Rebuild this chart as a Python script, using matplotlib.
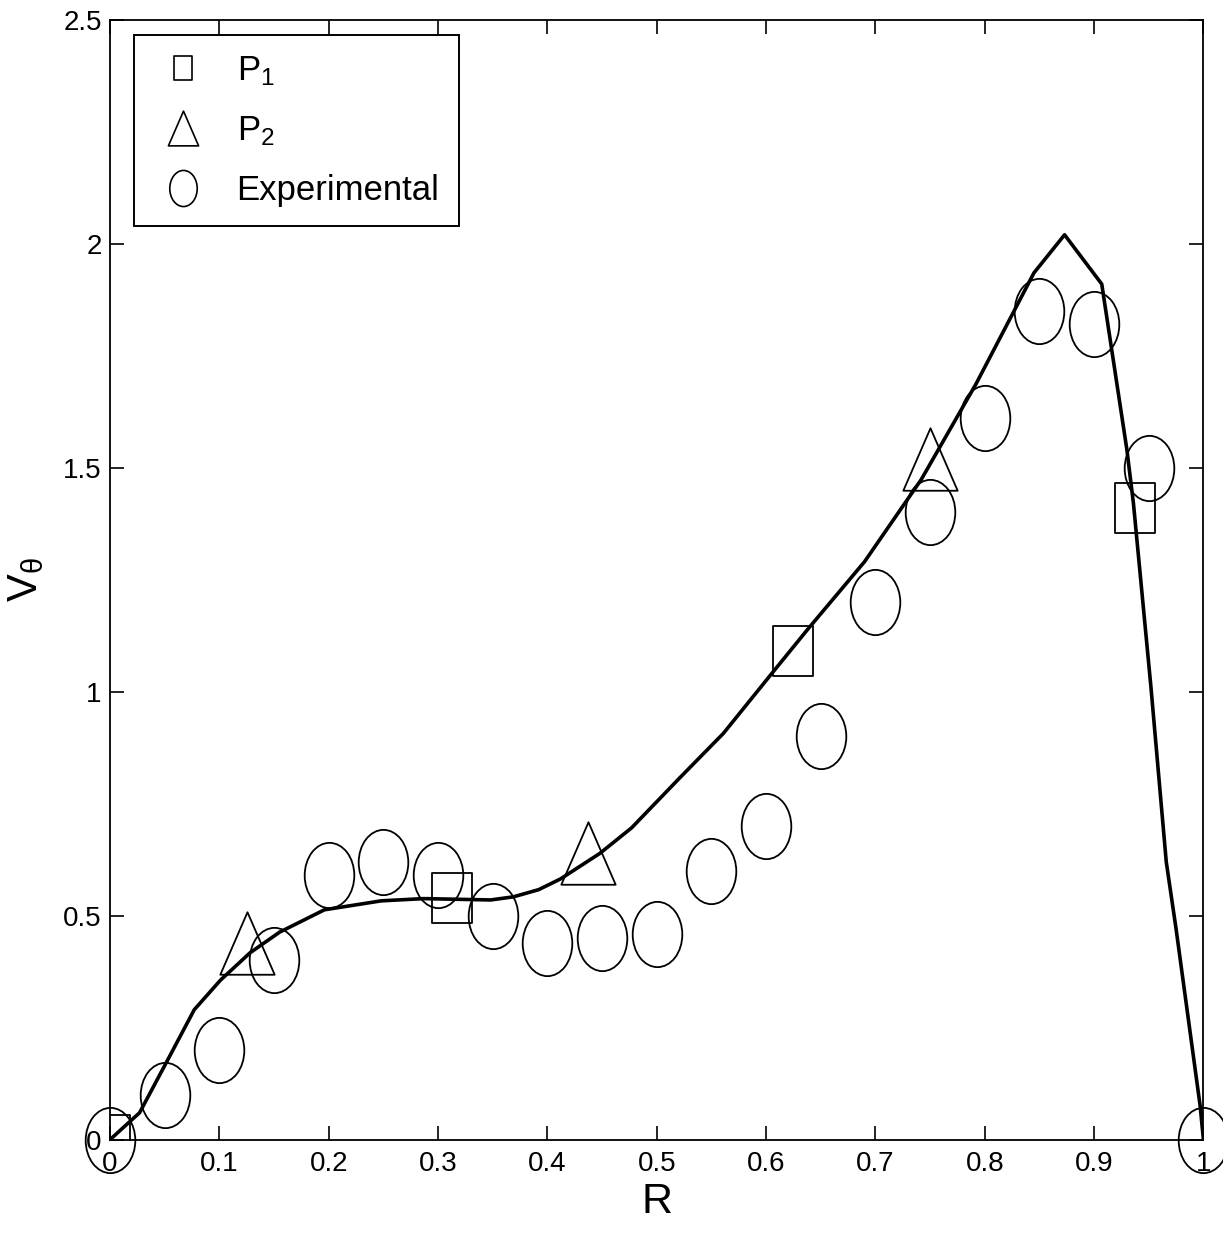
import numpy as np
import matplotlib
matplotlib.use("Agg")
import matplotlib.pyplot as plt
from matplotlib.path import Path
from matplotlib.lines import Line2D

plt.rcParams['font.family'] = ['Liberation Sans', 'DejaVu Sans']
plt.rcParams['mathtext.default'] = 'regular'

# computed velocity profile
R_line = [0.0, 0.027, 0.051, 0.077, 0.101, 0.128, 0.155, 0.196, 0.248, 0.287,
          0.348, 0.369, 0.392, 0.412, 0.448, 0.477, 0.522, 0.561, 0.604, 0.638,
          0.69, 0.742, 0.792, 0.845, 0.873, 0.907, 0.93, 0.936, 0.952, 0.966,
          0.975, 0.997, 1.0]
V_line = [0.0, 0.06, 0.17, 0.29, 0.356, 0.417, 0.463, 0.513, 0.533, 0.538,
          0.535, 0.542, 0.558, 0.582, 0.639, 0.696, 0.81, 0.907, 1.037, 1.139,
          1.29, 1.474, 1.687, 1.935, 2.02, 1.91, 1.54, 1.42, 1.01, 0.62,
          0.47, 0.075, 0.0]

# points P1 and P2
R_p1 = [0.0, 0.3125, 0.625, 0.9375]
V_p1 = [0.0, 0.54, 1.09, 1.41]
R_p2 = [0.125, 0.4375, 0.75]
V_p2 = [0.44, 0.64, 1.52]

# measurements
R_exp = [0.0, 0.05, 0.1, 0.15, 0.2, 0.25, 0.3, 0.35, 0.4, 0.45, 0.5,
         0.55, 0.6, 0.65, 0.7, 0.75, 0.8, 0.85, 0.9, 0.95, 1.0]
V_exp = [0.0, 0.10, 0.20, 0.40, 0.59, 0.62, 0.59, 0.50, 0.44, 0.45, 0.46,
         0.60, 0.70, 0.90, 1.20, 1.40, 1.61, 1.85, 1.82, 1.50, 0.0]

x_ticks = [0, 0.1, 0.2, 0.3, 0.4, 0.5, 0.6, 0.7, 0.8, 0.9, 1]
x_ticklabels = ['0', '0.1', '0.2', '0.3', '0.4', '0.5', '0.6', '0.7', '0.8', '0.9', '1']
y_ticks = [0, 0.5, 1, 1.5, 2, 2.5]
y_ticklabels = ['0', '0.5', '1', '1.5', '2', '2.5']

# tall (stretched) marker shapes
circ = Path.unit_circle()
ellipse = Path(circ.vertices * np.array([0.76, 1.0]), circ.codes)
box = Path([(-0.8, -1), (0.8, -1), (0.8, 1), (-0.8, 1), (-0.8, -1)],
           [Path.MOVETO, Path.LINETO, Path.LINETO, Path.LINETO, Path.CLOSEPOLY])
tri = Path([(0, 1), (-0.87, -1), (0.87, -1), (0, 1)],
           [Path.MOVETO, Path.LINETO, Path.LINETO, Path.CLOSEPOLY])

fig = plt.figure(figsize=(12.23, 12.36), dpi=100)
ax = fig.add_axes([0.09, 0.078, 0.894, 0.906])

ax.plot(R_line, V_line, color='black', lw=2.6)
ax.plot(R_p1, V_p1, ls='none', marker=box, ms=36, mfc='none', mec='black', mew=1.3)
ax.plot(R_p2, V_p2, ls='none', marker=tri, ms=45, mfc='none', mec='black', mew=1.3)
ax.plot(R_exp, V_exp, ls='none', marker=ellipse, ms=47, mfc='none', mec='black', mew=1.3,
        clip_on=False)

ax.set_xlim(0, 1)
ax.set_ylim(0, 2.5)
ax.set_xticks(x_ticks)
ax.set_xticklabels(x_ticklabels)
ax.set_yticks(y_ticks)
ax.set_yticklabels(y_ticklabels)
ax.tick_params(direction='in', length=10, width=1.2, top=True, right=True,
               labelsize=20)
ax.tick_params(axis='x', pad=8)
ax.tick_params(axis='y', pad=6)
for s in ax.spines.values():
    s.set_linewidth(1.3)

ax.set_xlabel('R', fontsize=31, labelpad=4)
ax.set_ylabel(r'V$_\theta$', fontsize=30, labelpad=12)

handles = [
    Line2D([], [], ls='none', marker=box, ms=17, mfc='none', mec='black', mew=1.2),
    Line2D([], [], ls='none', marker=tri, ms=25, mfc='none', mec='black', mew=1.2),
    Line2D([], [], ls='none', marker=ellipse, ms=26, mfc='none', mec='black', mew=1.2),
]
leg = ax.legend(handles, ['P$_1$', 'P$_2$', 'Experimental'], loc='upper left',
                bbox_to_anchor=(0.022, 0.986), fontsize=25, fancybox=False,
                edgecolor='black', framealpha=1, borderpad=0.55, labelspacing=0.75,
                handletextpad=0.7, handlelength=1.7, borderaxespad=0)
leg.get_frame().set_linewidth(1.4)

fig.savefig('out.png', dpi=100)
